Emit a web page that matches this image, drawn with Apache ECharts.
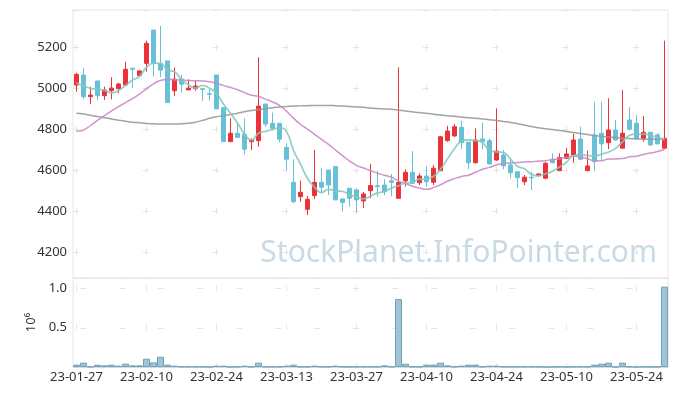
<!DOCTYPE html>
<html><head><meta charset="utf-8">
<script src="https://cdn.jsdelivr.net/npm/echarts/dist/echarts.min.js"></script>
<style>html,body{margin:0;padding:0;background:#fff}#c{width:677px;height:396px}</style>
</head><body><div id="c"></div><script>
const dates = ['23-01-27','23-01-30','23-01-31','23-02-01','23-02-02','23-02-03','23-02-06','23-02-07','23-02-08','23-02-09','23-02-10','23-02-13','23-02-14','23-02-15','23-02-16','23-02-17','23-02-20','23-02-21','23-02-22','23-02-23','23-02-24','23-02-27','23-02-28','23-03-02','23-03-03','23-03-06','23-03-07','23-03-08','23-03-09','23-03-10','23-03-13','23-03-14','23-03-15','23-03-16','23-03-17','23-03-20','23-03-21','23-03-22','23-03-23','23-03-24','23-03-27','23-03-28','23-03-29','23-03-30','23-03-31','23-04-03','23-04-04','23-04-05','23-04-06','23-04-07','23-04-10','23-04-11','23-04-12','23-04-13','23-04-14','23-04-17','23-04-18','23-04-19','23-04-20','23-04-21','23-04-24','23-04-25','23-04-26','23-04-27','23-04-28','23-05-02','23-05-03','23-05-04','23-05-08','23-05-09','23-05-10','23-05-11','23-05-12','23-05-15','23-05-16','23-05-17','23-05-18','23-05-19','23-05-22','23-05-23','23-05-24','23-05-25','23-05-26','23-05-30','23-05-31'];

const openP = [5016,5065,4959,5036,4964,4988,4998,5016,5098,5062,5122,5285,5122,5134,4988,5045,4992,4998,4998,4974,5065,4905,4739,4780,4775,4739,4744,4923,4829,4829,4711,4540,4470,4408,4475,4540,4600,4617,4459,4511,4503,4449,4499,4524,4527,4548,4462,4547,4589,4538,4571,4540,4597,4744,4767,4809,4736,4636,4752,4744,4649,4674,4625,4592,4543,4565,4573,4560,4653,4597,4658,4674,4752,4597,4772,4780,4734,4796,4707,4845,4829,4755,4785,4772,4707];
const closeP = [5068,4959,4967,4964,4992,5001,5021,5093,5093,5085,5220,5122,5089,4930,5045,5020,5001,5011,4995,4971,4899,4739,4780,4760,4702,4747,4913,4825,4804,4751,4653,4445,4491,4457,4540,4516,4527,4454,4441,4462,4454,4483,4524,4519,4494,4540,4540,4589,4535,4571,4543,4609,4763,4791,4812,4734,4636,4747,4739,4630,4693,4620,4587,4563,4565,4562,4581,4633,4636,4661,4679,4747,4653,4620,4641,4728,4796,4747,4780,4800,4755,4785,4723,4728,4755];
const lowP = [4983,4946,4922,4943,4943,4946,4976,5011,5000,5057,5081,5057,5054,4930,4962,4980,4992,4988,4939,4939,4899,4739,4739,4760,4677,4698,4714,4812,4796,4736,4600,4438,4445,4380,4459,4487,4478,4454,4397,4421,4392,4415,4462,4470,4478,4473,4462,4519,4531,4527,4519,4527,4597,4739,4763,4702,4604,4632,4702,4630,4645,4604,4560,4511,4527,4503,4571,4555,4633,4597,4653,4636,4649,4597,4597,4646,4702,4744,4707,4793,4755,4739,4718,4728,4705];
const highP = [5076,5101,5008,5038,5008,5054,5027,5130,5101,5089,5233,5285,5305,5134,5101,5065,5044,5036,4998,4995,5065,4905,4853,4829,4853,4755,5152,4923,4881,4829,4731,4653,4548,4473,4698,4609,4600,4617,4459,4511,4511,4493,4630,4597,4555,4581,5103,4604,4693,4584,4620,4625,4767,4817,4824,4842,4736,4804,4832,4755,4902,4698,4658,4592,4576,4592,4584,4641,4682,4682,4707,4777,4812,4695,4934,4934,4951,4845,4992,4907,4869,4865,4785,4780,5233];
const volume = [29000,55000,5000,29000,21000,29000,17000,42000,21000,21000,106000,59000,131000,30000,17000,5000,5000,5000,5000,2000,17000,17000,2000,5000,17000,5000,55000,5000,5000,5000,17000,30000,5000,5000,17000,5000,5000,17000,5000,2000,5000,5000,5000,5000,21000,5000,868000,42000,5000,5000,30000,30000,55000,21000,5000,17000,30000,30000,5000,17000,17000,5000,5000,5000,5000,5000,5000,1000,1000,5000,1000,5000,5000,5000,30000,42000,55000,1000,55000,5000,1000,5000,1000,5000,1025000];
const ma5 = [5027,5011,5000,4995,4990,4977,4989,5014,5040,5059,5102,5123,5122,5089,5081,5041,5017,5001,5014,5000,4975,4923,4877,4830,4776,4746,4780,4789,4798,4808,4789,4696,4629,4559,4517,4490,4506,4499,4496,4480,4468,4459,4473,4488,4495,4512,4523,4536,4540,4555,4556,4569,4604,4655,4704,4742,4747,4744,4734,4697,4689,4686,4654,4619,4606,4579,4572,4581,4595,4615,4638,4671,4675,4672,4668,4678,4688,4706,4738,4770,4776,4776,4770,4759,4750];
const ma20 = [4790,4796,4818,4843,4866,4889,4910,4930,4950,4972,4998,5022,5038,5043,5042,5040,5038,5037,5036,5032,5024,5013,5004,4993,4979,4966,4961,4947,4933,4916,4888,4854,4824,4800,4775,4750,4726,4698,4671,4645,4623,4610,4597,4585,4575,4565,4546,4534,4521,4512,4506,4514,4528,4545,4558,4569,4575,4589,4604,4613,4625,4631,4635,4637,4640,4641,4644,4646,4651,4655,4662,4669,4663,4655,4646,4646,4654,4654,4656,4665,4668,4676,4683,4691,4701];
const maLong = [4878,4874,4868,4862,4856,4850,4844,4839,4834,4831,4828,4826,4825,4825,4825,4826,4829,4834,4843,4853,4861,4866,4872,4878,4885,4891,4896,4900,4905,4909,4911,4913,4914,4915,4916,4916,4916,4915,4913,4911,4909,4907,4904,4901,4899,4897,4893,4889,4885,4881,4878,4873,4869,4866,4863,4859,4856,4853,4850,4846,4843,4838,4833,4827,4820,4813,4807,4802,4798,4794,4789,4784,4779,4774,4769,4765,4762,4759,4756,4754,4752,4751,4751,4751,4751];

const FONT = 'Noto Sans';
const candleData = dates.map((d, i) => [openP[i], closeP[i], lowP[i], highP[i]]);
const gridCross = '#e4e4e4';

const chart = echarts.init(document.getElementById('c'), null, {renderer: 'canvas'});
chart.setOption({
  animation: false,
  backgroundColor: '#ffffff',
  textStyle: {fontFamily: FONT},
  grid: [
    {left: 73, right: 9, top: 10, height: 268, show: true, borderColor: '#e6e6e6', borderWidth: 1},
    {left: 73, right: 9, top: 278, height: 89, show: true, borderColor: '#e6e6e6', borderWidth: 1}
  ],
  xAxis: [
    {type: 'category', gridIndex: 0, data: dates, boundaryGap: true,
     axisLine: {show: false}, axisTick: {show: false}, axisLabel: {show: false},
     splitLine: {show: true, interval: 9, alignWithLabel: true, lineStyle: {color: gridCross, width: 1, type: [6, 34.9], dashOffset: 6.6}}},
    {type: 'category', gridIndex: 1, data: dates, boundaryGap: true,
     axisLine: {show: true, lineStyle: {color: '#d9d9d9'}}, axisTick: {show: false},
     axisLabel: {interval: 9, color: '#333', fontSize: 13, fontFamily: FONT, margin: 4},
     splitLine: {show: true, interval: 9, alignWithLabel: true, lineStyle: {color: gridCross, width: 1, type: [6, 33], dashOffset: 31.7}}}
  ],
  yAxis: [
    {type: 'value', gridIndex: 0, min: 4072, max: 5383, splitNumber: 6, scale: true,
     axisLine: {show: false}, axisTick: {show: false},
     axisLabel: {color: '#333', fontSize: 13, fontFamily: FONT, margin: 6, showMinLabel: false, showMaxLabel: false,
       formatter: v => (Math.abs(v % 200) < 1e-6 ? String(v) : '')},
     splitLine: {show: true, lineStyle: {color: gridCross, width: 1, type: [6, 64], dashOffset: 0.3}}},
    {type: 'value', gridIndex: 1, min: 0, max: 1135000, interval: 500000,
     name: '10\u2076', nameLocation: 'middle', nameRotate: 90, nameGap: 35,
     nameTextStyle: {color: '#333', fontSize: 13, fontFamily: FONT},
     axisLine: {show: false}, axisTick: {show: false},
     axisLabel: {color: '#333', fontSize: 13, fontFamily: FONT, margin: 6, showMinLabel: false, showMaxLabel: false,
       formatter: v => (v > 0 && v % 500000 === 0 ? (v / 1e6).toFixed(1) : '')},
     splitLine: {show: true, lineStyle: {color: gridCross, width: 1, type: [6, 33], dashOffset: 31.7}}}
  ],
  graphic: [{
    type: 'text', right: 20, top: 238, z: 0, silent: true,
    style: {text: 'StockPlanet.InfoPointer.com', fontSize: 30, fontFamily: FONT, fill: '#c8dae5'}
  }],
  series: [
    {type: 'candlestick', xAxisIndex: 0, yAxisIndex: 0, data: candleData, barWidth: '78%', z: 3,
     itemStyle: {color: '#ec3239', color0: '#67c0d7', borderColor: '#ec3239', borderColor0: '#67c0d7', borderWidth: 1}},
    {type: 'line', xAxisIndex: 0, yAxisIndex: 0, data: maLong, smooth: true, showSymbol: false, z: 4,
     lineStyle: {color: '#999999', width: 1.5, opacity: 0.9}},
    {type: 'line', xAxisIndex: 0, yAxisIndex: 0, data: ma20, smooth: true, showSymbol: false, z: 4,
     lineStyle: {color: '#c98ac6', width: 1.5, opacity: 0.9}},
    {type: 'line', xAxisIndex: 0, yAxisIndex: 0, data: ma5, smooth: true, showSymbol: false, z: 4,
     lineStyle: {color: '#85c8bc', width: 1.8, opacity: 0.85}},
    {type: 'bar', xAxisIndex: 1, yAxisIndex: 1, data: volume, barCategoryGap: '0%',
     itemStyle: {color: '#9fc4d6', borderColor: '#6fa2bb', borderWidth: 1}}
  ]
});
</script></body></html>
